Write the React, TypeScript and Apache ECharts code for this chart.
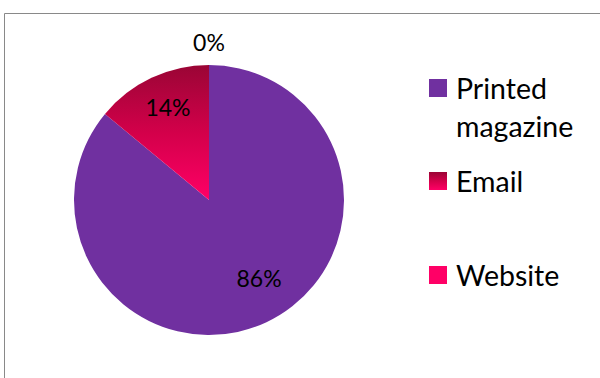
import React, { useEffect, useRef } from "react";
import * as echarts from "echarts";

const categories = ["Printed magazine", "Email", "Website"];
const values = [86, 14, 0];
const legendLabels = ["\nPrinted\nmagazine", "Email", "Website"];

const CX = 209;
const CY = 200;
const R = 135;

export default function App() {
  const ref = useRef<HTMLDivElement>(null);
  useEffect(() => {
    if (!ref.current) return;
    const chart = echarts.init(ref.current, undefined, { renderer: "svg" });
    const colors: any[] = [
      "#7030A0",
      new echarts.graphic.LinearGradient(0, 0, 0, 1, [
        { offset: 0, color: "#9A0535" },
        { offset: 0.5, color: "#D3004A" },
        { offset: 1, color: "#FF0066" },
      ]),
      "#FF0066",
    ];
    const legendTops = [31, 162, 256];
    const font = "Lato, 'Open Sans', sans-serif";
    const labelShift = [
      [20, 14],
      [-11, -29],
      [0, -88],
    ];
    chart.setOption({
      animation: false,
      backgroundColor: "#ffffff",
      graphic: [
        {
          type: "rect",
          shape: { x: 4.5, y: 13.5, width: 700, height: 500 },
          style: { fill: "none", stroke: "#898989", lineWidth: 1 },
          silent: true,
        },
      ],
      legend: categories.map((c, i) => ({
        data: [c],
        orient: "vertical",
        left: 429,
        top: legendTops[i],
        padding: 0,
        itemWidth: 18,
        itemHeight: 18,
        itemGap: 0,
        icon: "rect",
        selectedMode: false,
        formatter: () => legendLabels[i],
        textStyle: {
          fontFamily: font,
          fontSize: 28.5,
          lineHeight: 38,
          color: "#000",
          padding: [0, 0, 0, 4],
        },
      })),
      series: [
        {
          type: "pie",
          center: [CX, CY],
          radius: R,
          startAngle: 90,
          clockwise: true,
          minShowLabelAngle: 0,
          data: categories.map((c, i) => ({
            name: c,
            value: values[i],
            itemStyle: { color: colors[i] },
          })),
          label: {
            show: true,
            position: "inside",
            formatter: (p: any) => Math.round(p.percent) + "%",
            fontFamily: font,
            fontSize: 23,
            color: "#000",
          },
          labelLine: { show: false },
          labelLayout: (p: any) => {
            const s = labelShift[p.dataIndex];
            return { dx: s[0], dy: s[1] };
          },
        },
      ],
    });
    return () => chart.dispose();
  }, []);
  return (
    <div
      ref={ref}
      style={{ position: "fixed", left: 0, top: 0, width: 600, height: 378 }}
    />
  );
}
